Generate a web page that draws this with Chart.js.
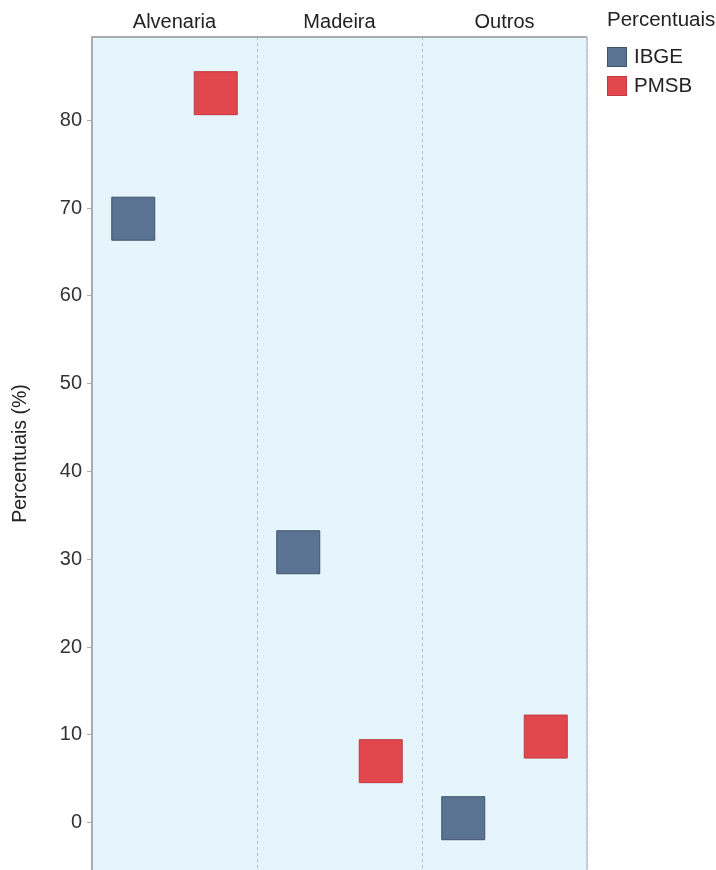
<!DOCTYPE html>
<html>
<head>
<meta charset="utf-8">
<script src="https://cdn.jsdelivr.net/npm/chart.js@4/dist/chart.umd.min.js"></script>
<style>
  html, body { margin: 0; padding: 0; background: #ffffff; overflow: hidden; }
  #wrap { width: 716px; height: 870px; }
</style>
</head>
<body>
<div id="wrap"><canvas id="c" width="716" height="870"></canvas></div>
<script>
// ---- data ----
const categories = ['Alvenaria', 'Madeira', 'Outros'];
const seriesNames = ['IBGE', 'PMSB'];
const ibgeValues = [68.8, 30.8, 0.5];
const pmsbValues = [83.1, 7.0, 9.8];
const yTicks = [0, 10, 20, 30, 40, 50, 60, 70, 80];
const legendTitle = 'Percentuais';
const yTitle = 'Percentuais (%)';

// ---- styles ----
const FONT = '"Liberation Sans", Arial, Helvetica, sans-serif';
const colors = {
  IBGE: { fill: '#5b7392', border: '#41536b' },
  PMSB: { fill: '#e1474c', border: '#bf3a3f' }
};

// each facet holds two slots: IBGE at slot 0, PMSB at slot 1
const ibgePoints = ibgeValues.map((v, i) => ({ x: i * 2 + 0.5, y: v }));
const pmsbPoints = pmsbValues.map((v, i) => ({ x: i * 2 + 1.5, y: v }));

const panelPlugin = {
  id: 'panel',
  beforeDraw(chart) {
    const { ctx, chartArea: a } = chart;
    ctx.save();
    ctx.fillStyle = '#e6f4fc';
    ctx.fillRect(a.left, a.top, a.right - a.left, a.bottom - a.top);
    ctx.restore();
  },
  beforeDatasetsDraw(chart) {
    const { ctx, chartArea: a } = chart;
    ctx.save();
    // left + top frame
    ctx.strokeStyle = '#a6adb2';
    ctx.lineWidth = 2;
    ctx.beginPath();
    ctx.moveTo(a.left, a.bottom + 2);
    ctx.lineTo(a.left, a.top);
    ctx.lineTo(a.right, a.top);
    ctx.stroke();
    // right frame
    ctx.strokeStyle = '#bcc3c8';
    ctx.lineWidth = 1.5;
    ctx.beginPath();
    ctx.moveTo(a.right, a.top);
    ctx.lineTo(a.right, a.bottom + 2);
    ctx.stroke();
    ctx.restore();
  },
  afterDraw(chart) {
    const { ctx, chartArea: a } = chart;
    const x0 = a.right + 20;
    ctx.save();
    ctx.font = '20.5px ' + FONT;
    ctx.fillStyle = '#222222';
    ctx.textBaseline = 'middle';
    ctx.textAlign = 'left';
    ctx.fillText(legendTitle, x0, a.top - 17);
    chart.data.datasets.forEach((ds, i) => {
      const by = a.top + 10 + i * 29;
      ctx.fillStyle = ds.backgroundColor;
      ctx.fillRect(x0, by, 20, 20);
      ctx.strokeStyle = ds.borderColor;
      ctx.lineWidth = 1;
      ctx.strokeRect(x0 + 0.5, by + 0.5, 19, 19);
      ctx.fillStyle = '#222222';
      ctx.fillText(ds.label, x0 + 27, by + 10);
    });
    ctx.restore();
  }
};

new Chart(document.getElementById('c'), {
  type: 'scatter',
  data: {
    datasets: [
      {
        label: seriesNames[0],
        data: ibgePoints,
        backgroundColor: colors.IBGE.fill,
        borderColor: colors.IBGE.border,
        borderWidth: 1,
        pointStyle: 'rect',
        pointRadius: 30.4,
        pointHoverRadius: 30.4
      },
      {
        label: seriesNames[1],
        data: pmsbPoints,
        backgroundColor: colors.PMSB.fill,
        borderColor: colors.PMSB.border,
        borderWidth: 1,
        pointStyle: 'rect',
        pointRadius: 30.4,
        pointHoverRadius: 30.4
      }
    ]
  },
  options: {
    responsive: false,
    animation: false,
    devicePixelRatio: 1,
    layout: { autoPadding: false, padding: { top: 7, right: 129, left: 0, bottom: 0 } },
    plugins: {
      legend: { display: false },
      tooltip: { enabled: false }
    },
    scales: {
      x: {
        type: 'linear',
        min: 0,
        max: 6,
        display: false
      },
      facet: {
        type: 'category',
        position: 'top',
        labels: categories,
        offset: true,
        grid: {
          display: true,
          offset: true,
          drawTicks: false,
          color: '#b3bcc3',
          lineWidth: 1
        },
        border: { display: false, dash: [3, 3] },
        ticks: {
          color: '#222222',
          font: { family: FONT, size: 20 },
          padding: 3
        }
      },
      y: {
        type: 'linear',
        min: -5.4,
        max: 89.5,
        afterBuildTicks(scale) {
          scale.ticks = yTicks.map(v => ({ value: v }));
        },
        afterFit(scale) {
          scale.width = 92;
          scale.paddingTop = 0;
          scale.paddingBottom = 0;
        },
        grid: {
          display: true,
          drawOnChartArea: false,
          drawTicks: true,
          tickLength: 5,
          color: '#a6adb2'
        },
        border: { display: false },
        ticks: {
          color: '#333333',
          font: { family: FONT, size: 20 },
          padding: 5
        },
        title: {
          display: true,
          text: yTitle,
          color: '#222222',
          font: { family: FONT, size: 19.5 },
          padding: { top: 9, bottom: 0 }
        }
      }
    }
  },
  plugins: [panelPlugin]
});
</script>
</body>
</html>
